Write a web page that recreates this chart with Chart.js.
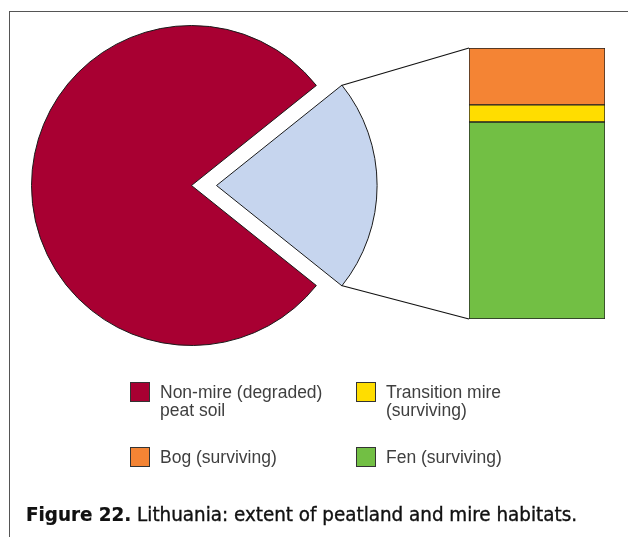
<!DOCTYPE html>
<html>
<head>
<meta charset="utf-8">
<script src="https://cdn.jsdelivr.net/npm/chart.js@4/dist/chart.umd.min.js"></script>
<style>
  html, body { margin: 0; padding: 0; background: #fff; }
  #page { position: relative; width: 628px; height: 537px; overflow: hidden; background: #fff; }
  #frame { position: absolute; left: 9px; top: 11px; width: 700px; height: 600px;
           border-left: 1px solid #555; border-top: 1px solid #555; }
  #pieBox { position: absolute; left: 0; top: 0; width: 383px; height: 371px; }
  #barBox { position: absolute; left: 469px; top: 48px; width: 136px; height: 271px; }
  #links { position: absolute; left: 0; top: 0; pointer-events: none; }
  .key { position: absolute; width: 18px; height: 18px; border: 1px solid #333; }
  .keyText { position: absolute; font-family: "Liberation Sans", Arial, sans-serif;
             font-size: 17.5px; line-height: 18px; color: #3f3f3f; white-space: nowrap; }
  #title { position: absolute; left: 26px; top: 504px; font-size: 19px; line-height: 20px;
           font-family: "DejaVu Sans Condensed", "DejaVu Sans", sans-serif; font-stretch: condensed;
           color: #111; white-space: nowrap; transform-origin: 0 0;
           -webkit-text-stroke: 0.35px #111; }
  #title b { font-weight: bold; -webkit-text-stroke: 0.2px #111; }
</style>
</head>
<body>
<div id="page">
  <div id="frame"></div>
  <div id="pieBox"><canvas id="pie"></canvas></div>
  <div id="barBox"><canvas id="bar"></canvas></div>
  <canvas id="links" width="628" height="537"></canvas>
  <div id="legend"></div>
  <div id="title"><b>Figure 22.</b> Lithuania: extent of peatland and mire habitats.</div>
</div>
<script>
// Peatland split (% of total peatland area)
const pieLabels = ['Non-mire (degraded) peat soil', 'Surviving mire'];
const pieValues = [78.5, 21.5];
const pieColors = ['#A80032', '#C6D5EE'];

// Surviving mire broken down by habitat (% of surviving mire), bottom to top
const mireLabels = ['Fen (surviving)', 'Transition mire (surviving)', 'Bog (surviving)'];
const mireValues = [72.7, 6.3, 21.0];
const mireColors = ['#72BF44', '#FFDD00', '#F48434'];

const EXPLODE = 25;      // how far the surviving-mire wedge is pulled out, px
const PIE_RADIUS = 160;

// Chart.js shifts an arc by offset / 4
const pieChart = new Chart(document.getElementById('pie'), {
  type: 'pie',
  data: {
    labels: pieLabels,
    datasets: [{
      data: pieValues,
      backgroundColor: pieColors,
      borderColor: '#1a1a1a',
      borderWidth: 1,
      offset: [0, EXPLODE * 4],
      radius: PIE_RADIUS
    }]
  },
  options: {
    responsive: true,
    maintainAspectRatio: false,
    animation: false,
    events: [],
    radius: PIE_RADIUS,
    // centre the surviving-mire wedge on the 3 o'clock direction
    rotation: 90 + 180 * pieValues[1] / (pieValues[0] + pieValues[1]),
    layout: { padding: 0 },
    plugins: { legend: { display: false }, tooltip: { enabled: false } }
  }
});

const mireTotal = mireValues.reduce((a, b) => a + b, 0);
const barChart = new Chart(document.getElementById('bar'), {
  type: 'bar',
  data: {
    labels: ['Surviving mire'],
    datasets: mireLabels.map((lab, i) => ({
      label: lab,
      data: [mireValues[i]],
      backgroundColor: mireColors[i],
      borderColor: '#222',
      borderWidth: 1,
      borderSkipped: false,
      barPercentage: 1,
      categoryPercentage: 1
    }))
  },
  options: {
    responsive: true,
    maintainAspectRatio: false,
    animation: false,
    events: [],
    layout: { padding: 0 },
    scales: {
      x: { stacked: true, display: false },
      y: { stacked: true, display: false, min: 0, max: mireTotal }
    },
    plugins: { legend: { display: false }, tooltip: { enabled: false } }
  }
});

// Connector lines from the pulled-out wedge to the stacked bar
function drawLinks() {
  const pieBox = document.getElementById('pieBox');
  const barBox = document.getElementById('barBox');
  const arc = pieChart.getDatasetMeta(0).data[1];
  const p = arc.getProps(['x', 'y', 'startAngle', 'endAngle', 'outerRadius'], true);
  const half = (p.startAngle + p.endAngle) / 2;
  const cx = pieBox.offsetLeft + p.x + Math.cos(half) * EXPLODE;
  const cy = pieBox.offsetTop + p.y + Math.sin(half) * EXPLODE;
  const r = p.outerRadius;
  const a1 = { x: cx + r * Math.cos(p.startAngle), y: cy + r * Math.sin(p.startAngle) };
  const a2 = { x: cx + r * Math.cos(p.endAngle), y: cy + r * Math.sin(p.endAngle) };

  const topBar = barChart.getDatasetMeta(mireValues.length - 1).data[0].getProps(['x', 'y', 'width'], true);
  const botBar = barChart.getDatasetMeta(0).data[0].getProps(['x', 'base', 'width'], true);
  const bx = barBox.offsetLeft + topBar.x - topBar.width / 2;
  const bTop = { x: bx, y: barBox.offsetTop + topBar.y };
  const bBot = { x: bx, y: barBox.offsetTop + botBar.base };

  // the upper corner of the wedge joins the top of the bar
  const upper = a1.y < a2.y ? a1 : a2;
  const lower = a1.y < a2.y ? a2 : a1;

  const ctx = document.getElementById('links').getContext('2d');
  ctx.strokeStyle = '#111';
  ctx.lineWidth = 1.2;
  ctx.beginPath();
  ctx.moveTo(upper.x, upper.y); ctx.lineTo(bTop.x, bTop.y);
  ctx.moveTo(lower.x, lower.y); ctx.lineTo(bBot.x, bBot.y);
  ctx.stroke();
}
drawLinks();

// Legend, two columns
const legendItems = [
  { text: 'Non-mire (degraded)<br>peat soil', color: pieColors[0], x: 130, y: 382 },
  { text: 'Transition mire<br>(surviving)', color: mireColors[1], x: 356, y: 382 },
  { text: 'Bog (surviving)', color: mireColors[2], x: 130, y: 447 },
  { text: 'Fen (surviving)', color: mireColors[0], x: 356, y: 447 }
];
const legend = document.getElementById('legend');
legendItems.forEach(it => {
  const sq = document.createElement('div');
  sq.className = 'key';
  sq.style.left = it.x + 'px';
  sq.style.top = it.y + 'px';
  sq.style.background = it.color;
  legend.appendChild(sq);
  const t = document.createElement('div');
  t.className = 'keyText';
  t.style.left = (it.x + 30) + 'px';
  t.style.top = (it.y + 1) + 'px';
  t.innerHTML = it.text;
  legend.appendChild(t);
});

// Caption set in a condensed face: squeeze to the caption width
const title = document.getElementById('title');
const w = title.getBoundingClientRect().width;
title.style.transform = 'scaleX(' + (551 / w) + ')';
</script>
</body>
</html>
